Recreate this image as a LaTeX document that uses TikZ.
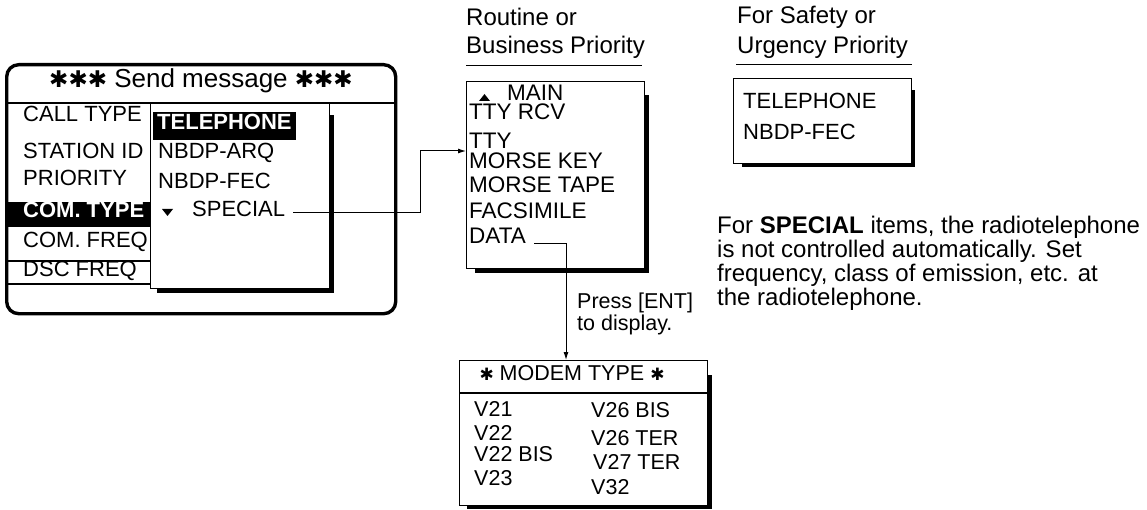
\documentclass[tikz,border=0pt]{standalone}
\usepackage{fontspec}
\setmainfont{Liberation Sans}
\newfontfamily\djv{DejaVu Sans}
\usetikzlibrary{arrows.meta}
\newcommand{\hast}[1]{{\djv\fontsize{#1}{#1}\selectfont\char"2731}}
\begin{document}
\begin{tikzpicture}[x=1pt,y=-1pt,
  txt/.style={inner sep=0pt, anchor=west, text height=0.72em, text depth=0pt},
  fm/.style={font=\fontsize{22}{26}\selectfont},
  fmb/.style={font=\fontsize{22}{26}\selectfont\bfseries},
  fr/.style={font=\fontsize{22.5}{27}\selectfont},
  fs/.style={font=\fontsize{21.5}{25}\selectfont},
  fl/.style={font=\fontsize{24}{28}\selectfont},
  box/.style={draw, line width=1.2pt, fill=white, inner sep=0pt, anchor=north west},
  arr/.style={line width=1pt, -{Latex[length=8pt,width=5pt]}},
]
\useasboundingbox (0,0) rectangle (1147,510);

% ---------- left panel ----------
\node[draw, line width=3.4pt, rounded corners=12pt, minimum width=389pt, minimum height=249pt, anchor=north west, inner sep=0pt] (lbox) at (5,63) {};
\node[inner sep=0pt, font=\fontsize{26}{30}\selectfont, text height=0.72em, text depth=0pt] (title) at (201,84) {\hast{23}\hast{23}\hast{23} Send message \hast{23}\hast{23}\hast{23}};
\draw[line width=1.2pt] (6,103) -- (396,103);
\node[txt,fm] (calltype) at (23,118) {CALL TYPE};
\node[txt,fm] (stationid) at (23,155) {STATION ID};
\node[txt,fm] (priority) at (23,182) {PRIORITY};
\fill (6,202) rectangle (150,227);
\node[txt,fmb,text=white] (comtype) at (23,214) {COM. TYPE};
\node[txt,fm] (comfreq) at (23,244) {COM. FREQ};
\draw[line width=1.2pt] (6,261) -- (150,261);
\node[txt,fm] (dscfreq) at (23,273) {DSC FREQ};
\draw[line width=1.2pt] (6,284) -- (150,284);

% sub menu
\fill (329,115) rectangle (334,293);
\fill (157,288) rectangle (334,293);
\node[box, minimum width=179pt, minimum height=185pt] (sub) at (150,103) {};
\node[fill=black, text=white, inner xsep=4pt, inner ysep=0pt, minimum height=28pt, text height=0.72em, text depth=0pt, anchor=west, fmb] (tel) at (153,126) {TELEPHONE};
\node[txt,fm] (arq) at (158,155) {NBDP-ARQ};
\node[txt,fm] (fec) at (158,185) {NBDP-FEC};
\fill (162,209) -- (173,209) -- (167.5,216) -- cycle;
\node[txt,fm] (special) at (192,213) {SPECIAL};

% ---------- routine ----------
\node[txt,fl] (rout1) at (466,22) {Routine or};
\node[txt,fl] (rout2) at (466,50) {Business Priority};
\draw[line width=1pt] (466,66) -- (642,66);
\fill (644,95) rectangle (649,273);
\fill (475,268) rectangle (649,273);
\node[box, minimum width=178pt, minimum height=187pt] (routine) at (466,81) {};
\fill (479,101) -- (490,101) -- (484.5,94) -- cycle;
\node[txt,fr] (main) at (507,97) {MAIN};
\node[txt,fr] (ttyrcv) at (469,116) {TTY RCV};
\node[txt,fr] (tty) at (469,145) {TTY};
\node[txt,fr] (mkey) at (469,165) {MORSE KEY};
\node[txt,fr] (mtape) at (469,189) {MORSE TAPE};
\node[txt,fr] (fax) at (469,215) {FACSIMILE};
\node[txt,fr] (data) at (469,240) {DATA};

% ---------- safety ----------
\node[txt,fl] (saf1) at (737,20) {For Safety or};
\node[txt,fl] (saf2) at (737,50) {Urgency Priority};
\draw[line width=1pt] (736,65) -- (912,65);
\fill (911,90) rectangle (915,167);
\fill (742,163) rectangle (915,167);
\node[box, minimum width=178pt, minimum height=85pt] (safety) at (733,78) {};
\node[txt,fm] (stel) at (743,105) {TELEPHONE};
\node[txt,fm] (sfec) at (743,136) {NBDP-FEC};

% ---------- paragraph ----------
\node[anchor=north west, inner sep=0pt, align=left, font=\fontsize{24}{24}\selectfont] (para) at (717,216)
  {For \textbf{SPECIAL} items, the radiotelephone\\is not controlled automatically. Set\\frequency, class of emission, etc. at\\the radiotelephone.};

% ---------- modem ----------
\node[txt,fs] (press1) at (577,305) {Press [ENT]};
\node[txt,fs] (press2) at (577,327) {to display.};
\fill (707,375) rectangle (712,509);
\fill (467,505) rectangle (712,509);
\node[box, minimum width=248pt, minimum height=145pt] (modem) at (459,360) {};
\draw[line width=1.2pt] (459,393) -- (707,393);
\node[inner sep=0pt, fs, text height=0.72em, text depth=0pt] (mhead) at (572,377) {\hast{17} MODEM TYPE \hast{17}};
\node[txt,fs] (v21) at (474,413) {V21};
\node[txt,fs] (v22) at (474,437) {V22};
\node[txt,fs] (v22b) at (474,458) {V22 BIS};
\node[txt,fs] (v23) at (474,482) {V23};
\node[txt,fs] (v26b) at (591,414) {V26 BIS};
\node[txt,fs] (v26t) at (591,442) {V26 TER};
\node[txt,fs] (v27t) at (593,466) {V27 TER};
\node[txt,fs] (v32) at (591,491) {V32};

% ---------- connectors ----------
\coordinate (bend) at (420,151);
\draw[arr] ([xshift=8pt]special.east) -| (bend) -- (routine.west |- bend);
\coordinate (dbend) at (566,245);
\draw[arr] ([xshift=8pt,yshift=-4pt]data.east) -| (modem.north -| dbend);
\end{tikzpicture}
\end{document}
